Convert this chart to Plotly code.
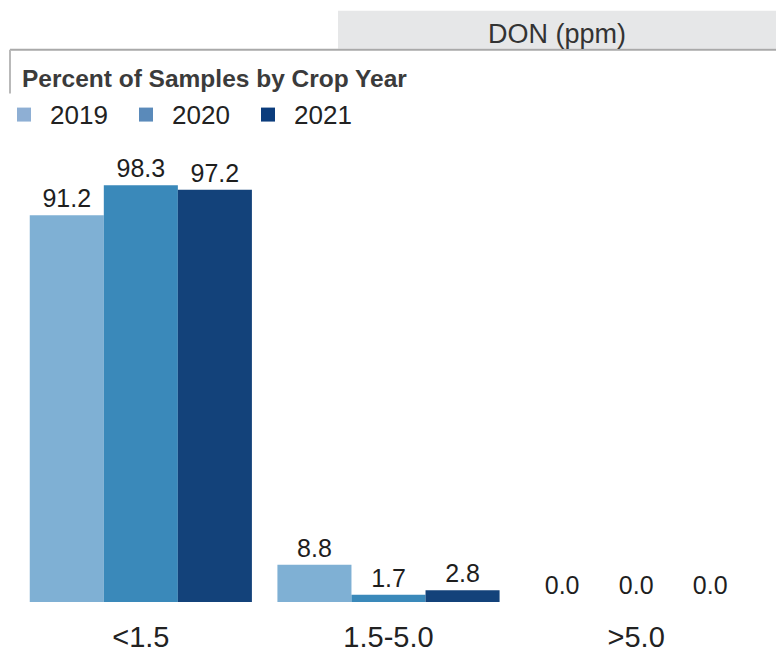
import plotly.graph_objects as go

# DON concentration bins and share of samples per crop year
categories = ["<1.5", "1.5-5.0", ">5.0"]
years = ["2019", "2020", "2021"]
pct_2019 = [91.2, 8.8, 0.0]
pct_2020 = [98.3, 1.7, 0.0]
pct_2021 = [97.2, 2.8, 0.0]

bar_colors = ["#7fb0d4", "#3a89ba", "#13427a"]
legend_colors = ["#8eafd4", "#5a8aba", "#0b3c7c"]

W, H = 776, 656
ML, MR, MT, MB = 17, 16, 177.5, 54
PW, PH = W - ML - MR, H - MT - MB


def px(x):
    return (x - ML) / PW


def py(y):
    return (H - MB - y) / PH


REG = "Liberation Sans, Arial, sans-serif"

fig = go.Figure()
for name, vals, col in zip(years, [pct_2019, pct_2020, pct_2021], bar_colors):
    fig.add_trace(go.Bar(
        x=categories, y=vals, name=name,
        marker=dict(color=col, line=dict(width=0)),
        text=[f"{v:.1f}" for v in vals],
        textposition="outside",
        textfont=dict(family=REG, size=25, color="#1e1e1e"),
        cliponaxis=False,
        showlegend=False,
    ))

shapes = [
    # header band
    dict(type="rect", xref="paper", yref="paper",
         x0=px(338), x1=px(776), y0=py(48), y1=py(10),
         fillcolor="#e6e7e8", line=dict(width=0), layer="below"),
    # frame lines
    dict(type="line", xref="paper", yref="paper",
         x0=px(10), x1=px(776), y0=py(49), y1=py(49),
         line=dict(color="#a9a9a9", width=2)),
    dict(type="line", xref="paper", yref="paper",
         x0=px(10), x1=px(10), y0=py(49), y1=py(93),
         line=dict(color="#b9b9b9", width=2)),
]

annotations = [
    dict(text="DON (ppm)", xref="paper", yref="paper",
         x=px(557), y=py(33), xanchor="center", yanchor="middle",
         showarrow=False, font=dict(family=REG, size=27, color="#333333")),
    dict(text="<b>Percent of Samples by Crop Year</b>", xref="paper", yref="paper",
         x=px(20), y=py(78), xanchor="left", yanchor="middle",
         showarrow=False, font=dict(family=REG, size=24.5, color="#3b3b3b")),
]

# legend row: swatch + year label
leg_x = [17, 139, 261]
for x0, yr, col in zip(leg_x, years, legend_colors):
    shapes.append(dict(type="rect", xref="paper", yref="paper",
                       x0=px(x0), x1=px(x0 + 14), y0=py(121), y1=py(107),
                       fillcolor=col, line=dict(width=0)))
    annotations.append(dict(text=yr, xref="paper", yref="paper",
                            x=px(x0 + 31), y=py(114), xanchor="left", yanchor="middle",
                            showarrow=False,
                            font=dict(family=REG, size=26, color="#222222")))

fig.update_layout(
    width=W, height=H,
    margin=dict(l=ML, r=MR, t=MT, b=MB, autoexpand=False),
    paper_bgcolor="white", plot_bgcolor="white",
    barmode="group", bargap=0.103, bargroupgap=0,
    uniformtext=dict(mode=False),
    xaxis=dict(showgrid=False, showline=False, ticks="", zeroline=False,
               automargin=False, ticklabelstandoff=15,
               tickfont=dict(family=REG, size=29, color="#222222")),
    yaxis=dict(range=[0, 100], visible=False, showgrid=False, zeroline=False,
               automargin=False),
    shapes=shapes, annotations=annotations,
)

fig.write_html("out.html")
